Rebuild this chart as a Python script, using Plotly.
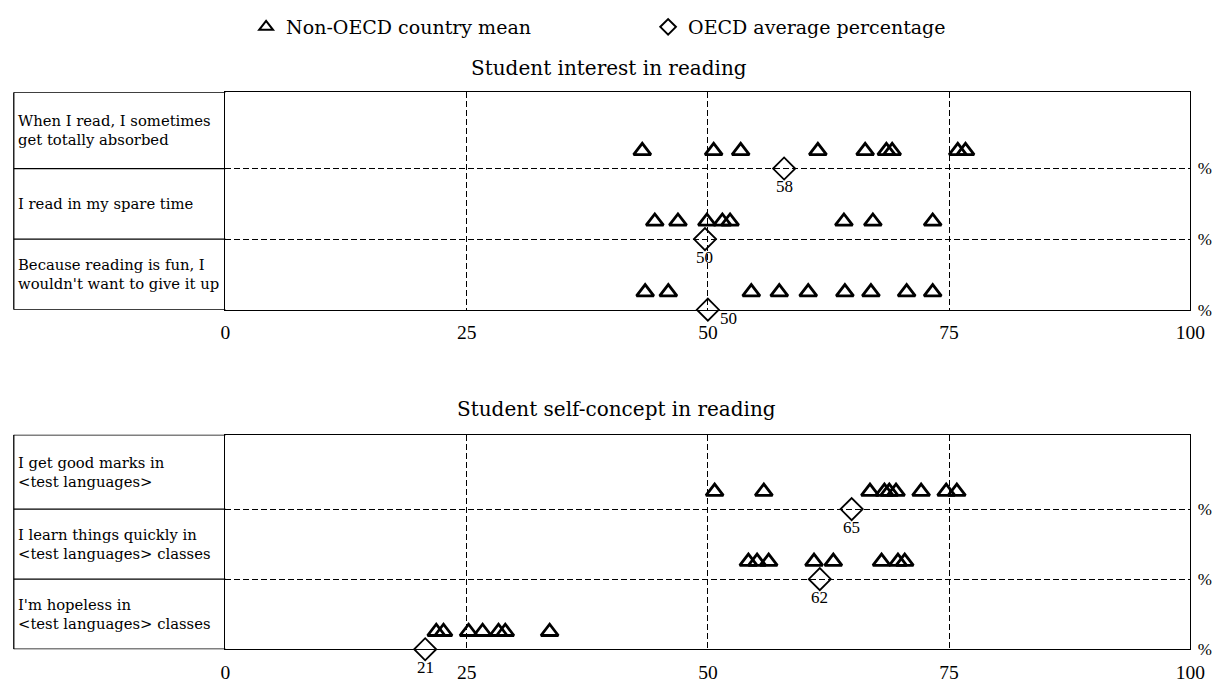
import plotly.graph_objects as go

# statements, top to bottom in each panel
interest_items = ["When I read, I sometimes<br>get totally absorbed",
                  "I read in my spare time",
                  "Because reading is fun, I<br>wouldn't want to give it up"]
self_items = ["I get good marks in<br>&lt;test languages&gt;",
              "I learn things quickly in<br>&lt;test languages&gt; classes",
              "I'm hopeless in<br>&lt;test languages&gt; classes"]

# non-OECD country means (%), one list per statement
interest_non_oecd = [
    [43.2, 50.6, 53.4, 61.4, 66.3, 68.5, 69.1, 75.9, 76.7],
    [44.5, 46.9, 49.9, 51.5, 52.3, 64.1, 67.1, 73.3],
    [43.5, 45.9, 54.5, 57.4, 60.4, 64.2, 66.9, 70.6, 73.3],
]
self_non_oecd = [
    [50.7, 55.8, 66.8, 68.3, 68.8, 69.5, 72.1, 74.7, 75.8],
    [54.2, 55.1, 56.3, 61.0, 63.0, 68.0, 69.7, 70.4],
    [21.85, 22.6, 25.2, 26.65, 28.3, 29.0, 33.6],
]

# OECD average percentage per statement
interest_oecd = [57.9, 49.7, 50.0]
self_oecd = [64.9, 61.6, 20.7]

x_ticks = [0, 25, 50, 75, 100]

SERIF = "Liberation Serif"
WIDE = "DejaVu Serif"
W, H = 1216, 683
TRI_OFFSET = 0.25

fig = go.Figure()

panels = [
    dict(title="Student interest in reading", items=interest_items,
         non_oecd=interest_non_oecd, oecd=interest_oecd, title_x=606, title_y=46,
         xa="x", ya="y", top=71, bottom=297, ymax=3.08, show=True),
    dict(title="Student self-concept in reading", items=self_items,
         non_oecd=self_non_oecd, oecd=self_oecd, title_x=614, title_y=400,
         xa="x2", ya="y2", top=427, bottom=650, ymax=3.06, show=False),
]

x_dom = [216 / W, 1197 / W]
label_left = 0.8 / W

for k, p in enumerate(panels):
    n = len(p["items"])
    # row i (top first) has its base line at y = n-1-i
    tx, ty, dx, dy = [], [], [], []
    for i, vals in enumerate(p["non_oecd"]):
        base = n - 1 - i
        tx += vals
        ty += [base + TRI_OFFSET] * len(vals)
    for i, v in enumerate(p["oecd"]):
        dx.append(v)
        dy.append(n - 1 - i)

    fig.add_trace(go.Scatter(
        x=tx, y=ty, mode="markers", xaxis=p["xa"], yaxis=p["ya"],
        name="Non-OECD country mean", showlegend=p["show"], cliponaxis=False,
        marker=dict(symbol="triangle-up-open", size=15, color="black",
                    line=dict(width=2.8, color="black"))))
    fig.add_trace(go.Scatter(
        x=dx, y=dy, mode="markers", xaxis=p["xa"], yaxis=p["ya"],
        name="OECD average percentage", showlegend=p["show"], cliponaxis=False,
        marker=dict(symbol="diamond-open", size=17, color="black",
                    line=dict(width=1.8, color="black"))))

    # value labels for the OECD averages
    for i, v in enumerate(p["oecd"]):
        right = (k == 0 and i == n - 1)
        fig.add_annotation(
            x=v, y=n - 1 - i, xref=p["xa"], yref=p["ya"], text=f"{v:.0f}",
            showarrow=False, font=dict(family=SERIF, size=17, color="black"),
            xshift=21 if right else 0, yshift=-9 if right else -18)

    # statement labels in the left column
    for i, lab in enumerate(p["items"]):
        yc = ((n - 1 - i) + (p["ymax"] if i == 0 else (n - i))) / 2
        fig.add_annotation(
            x=3 / W, y=yc, xref="paper", yref=p["ya"], text=lab,
            xanchor="left", yanchor="middle", align="left", showarrow=False,
            font=dict(family=WIDE, size=14.8, color="black"))

    # label column frame
    line = dict(color="black", width=1.3)
    for yv in list(range(n)) + [p["ymax"]]:
        fig.add_shape(type="line", xref="paper", yref=p["ya"],
                      x0=label_left, x1=x_dom[0], y0=yv, y1=yv, line=line)
    fig.add_shape(type="line", xref="paper", yref=p["ya"],
                  x0=label_left, x1=label_left, y0=0, y1=p["ymax"], line=line)

    # panel title
    fig.add_annotation(
        x=p["title_x"] / W, y=1 - p["title_y"] / H, xref="paper", yref="paper",
        text=p["title"], showarrow=False, yanchor="middle",
        font=dict(family=WIDE, size=20, color="black"))

    dom_y = [1 - p["bottom"] / H, 1 - p["top"] / H]
    xname = "xaxis" if p["xa"] == "x" else "xaxis2"
    yname = "yaxis" if p["ya"] == "y" else "yaxis2"
    fig.update_layout(**{
        xname: dict(domain=x_dom, range=[0, 100], anchor=p["ya"],
                    tickvals=x_ticks, showgrid=True, gridcolor="black",
                    griddash="6px,3px", gridwidth=1, zeroline=False,
                    showline=True, mirror=True, linecolor="black", linewidth=1.3,
                    ticks="", ticklabelstandoff=5,
                    tickfont=dict(family=SERIF, size=19.5, color="black")),
        yname: dict(domain=dom_y, range=[0, p["ymax"]], anchor=p["xa"],
                    side="right", tickvals=list(range(n)),
                    ticktext=["%"] * n, showgrid=True, gridcolor="black",
                    griddash="6px,3px", gridwidth=1, zeroline=False,
                    showline=True, mirror=True, linecolor="black", linewidth=1.3,
                    ticks="", ticklabelstandoff=3, fixedrange=True,
                    tickfont=dict(family=SERIF, size=17, color="black")),
    })

fig.update_layout(
    width=W, height=H,
    margin=dict(l=0, r=0, t=0, b=0),
    paper_bgcolor="white", plot_bgcolor="white",
    showlegend=True,
    legend=dict(orientation="h", x=237 / W, y=1 - 3 / H, xanchor="left",
                yanchor="middle", entrywidth=357, itemsizing="constant",
                font=dict(family=WIDE, size=19, color="black"),
                bgcolor="rgba(0,0,0,0)"),
)

fig.write_html("out.html")
